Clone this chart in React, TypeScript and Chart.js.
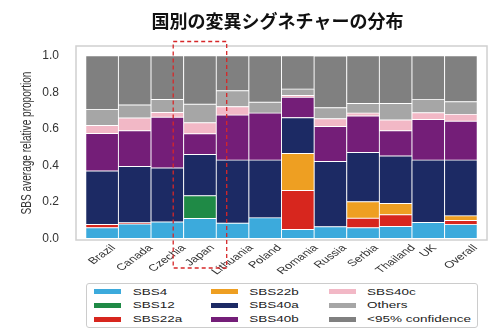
import { useEffect, useRef } from 'react';
import { Chart, registerables } from 'chart.js';

Chart.register(...registerables);

const TITLE = '国別の変異シグネチャーの分布';
const Y_TITLE = 'SBS average relative proportion';
const HIGHLIGHT = 'Japan';

const countries = ['Brazil', 'Canada', 'Czechia', 'Japan', 'Lithuania', 'Poland', 'Romania', 'Russia', 'Serbia', 'Thailand', 'UK', 'Overall'];
const yTicks = [0, 0.2, 0.4, 0.6, 0.8, 1.0];

const seriesNames = ['SBS4', 'SBS12', 'SBS22a', 'SBS22b', 'SBS40a', 'SBS40b', 'SBS40c', 'Others', '<95% confidence'];
const seriesColors = ['#3CAADC', '#1F8A46', '#D7261E', '#EE9F22', '#1C2A64', '#741E78', '#F2B8C6', '#A6A6A6', '#808080'];

const sbs4 = [0.059, 0.080, 0.090, 0.110, 0.084, 0.113, 0.049, 0.064, 0.059, 0.066, 0.088, 0.076];
const sbs12 = [0, 0, 0, 0.124, 0, 0, 0, 0, 0, 0, 0, 0];
const sbs22a = [0.018, 0.006, 0, 0, 0, 0, 0.214, 0, 0.052, 0.064, 0, 0.023];
const sbs22b = [0, 0, 0, 0, 0, 0, 0.202, 0, 0.090, 0.062, 0, 0.025];
const sbs40a = [0.292, 0.308, 0.296, 0.226, 0.345, 0.316, 0.196, 0.357, 0.270, 0.259, 0.341, 0.305];
const sbs40b = [0.205, 0.195, 0.277, 0.113, 0.246, 0.257, 0.111, 0.192, 0.199, 0.138, 0.222, 0.212];
const sbs40c = [0.044, 0.070, 0.026, 0.060, 0.046, 0, 0.010, 0.042, 0.016, 0.059, 0.037, 0.038];
const others = [0.087, 0.071, 0.071, 0.101, 0.087, 0.059, 0.035, 0.060, 0.053, 0.091, 0.073, 0.069];
const lowConf = [0.294, 0.270, 0.240, 0.266, 0.192, 0.255, 0.182, 0.283, 0.261, 0.261, 0.239, 0.252];

const seriesValues = [sbs4, sbs12, sbs22a, sbs22b, sbs40a, sbs40b, sbs40c, others, lowConf];

const FONT = '"Liberation Sans", Arial, Helvetica, sans-serif';
const SQUISH = 0.72;

const decorPlugin = {
  id: 'decor',
  beforeDatasetsDraw(chart: any) {
    const { ctx, chartArea: a } = chart;
    ctx.save();
    ctx.strokeStyle = '#d0d0d0';
    ctx.lineWidth = 1.5;
    ctx.strokeRect(a.left, a.top, a.right - a.left, a.bottom - a.top);
    ctx.restore();
  },
  afterDraw(chart: any) {
    const { ctx, chartArea: a } = chart;
    const xs = chart.scales.x;
    ctx.save();
    // title
    ctx.font = 'bold 18px "Noto Sans CJK JP", sans-serif';
    ctx.fillStyle = '#111';
    ctx.textAlign = 'center';
    ctx.textBaseline = 'middle';
    ctx.fillText(TITLE, (a.left + a.right) / 2 - 4, 21);

    // y axis title
    ctx.font = '14px ' + FONT;
    ctx.fillStyle = '#333';
    ctx.save();
    ctx.translate(27, (a.top + a.bottom) / 2);
    ctx.scale(1, SQUISH);
    ctx.rotate(-Math.PI / 2);
    ctx.fillText(Y_TITLE, 0, 0);
    ctx.restore();

    // rotated category labels, centred on their ticks
    ctx.font = '13px ' + FONT;
    const ang = Math.PI / 4;
    countries.forEach((c, i) => {
      const w = ctx.measureText(c).width;
      const bh = (w + 9.5) * Math.sin(ang) * SQUISH;
      const x = xs.getPixelForValue(i);
      const y = a.bottom + 4 + bh / 2;
      ctx.save();
      ctx.translate(x, y);
      ctx.scale(1, SQUISH);
      ctx.rotate(-ang);
      ctx.fillText(c, 0, 0);
      ctx.restore();
    });

    // dashed highlight box
    const j = countries.indexOf(HIGHLIGHT);
    const l = xs.getPixelForValue(j - 0.82);
    const r = xs.getPixelForValue(j + 0.82);
    const t = a.top - 4.5;
    const b = a.bottom + 28;
    ctx.strokeStyle = '#D62728';
    ctx.lineWidth = 1.3;
    ctx.setLineDash([4, 3]);
    ctx.strokeRect(l, t, r - l, b - t);
    ctx.restore();
  },
};

export default function App() {
  const ref = useRef<HTMLCanvasElement>(null);

  useEffect(() => {
    const chart = new Chart(ref.current as HTMLCanvasElement, {
      type: 'bar',
      data: {
        datasets: seriesNames.map((name, k) => ({
          label: name,
          data: countries.map((_, i) => ({ x: i, y: seriesValues[k][i] > 0 ? seriesValues[k][i] : null })),
          backgroundColor: seriesColors[k],
          borderColor: '#ffffff',
          borderWidth: 0.8,
          borderSkipped: false,
          barPercentage: 1,
          categoryPercentage: 1,
        })) as any,
      },
      options: {
        responsive: false,
        animation: false,
        devicePixelRatio: 1,
        layout: { padding: { left: 0, right: 17, top: 46, bottom: 60 } },
        plugins: {
          legend: { display: false },
          title: { display: false },
          tooltip: { enabled: false },
        },
        scales: {
          x: {
            type: 'linear',
            min: -0.8,
            max: 11.8,
            stacked: true,
            offset: false,
            grid: { display: false },
            border: { display: false },
            ticks: { display: false },
            afterFit: (s: any) => {
              s.height = 35;
            },
          },
          y: {
            stacked: true,
            min: -0.008,
            max: 1.053,
            grid: { display: false, drawTicks: false },
            border: { display: false },
            afterBuildTicks: (s: any) => {
              s.ticks = yTicks.map((v) => ({ value: v }));
            },
            afterFit: (s: any) => {
              s.width = 76;
            },
            ticks: {
              padding: 17,
              color: '#333',
              font: { family: FONT, size: 12 },
              callback: (v: any) => Number(v).toFixed(1),
            },
            title: { display: false },
          },
        },
      } as any,
      plugins: [decorPlugin],
    });
    return () => chart.destroy();
  }, []);

  const colX = [[6.7, 45.7], [124, 162.3], [241.7, 280]];
  const rowY = [7.7, 21.4, 35.2];

  return (
    <div style={{ position: 'fixed', left: 0, top: 0, width: 504, height: 335, background: '#fff' }}>
      <canvas ref={ref} width={504} height={335} style={{ position: 'absolute', left: 0, top: 0, width: 504, height: 335 }} />
      <div
        style={{
          position: 'absolute',
          left: 86,
          top: 283,
          width: 390,
          height: 43,
          border: '1px solid #cccccc',
          borderRadius: 3,
          background: '#fff',
          fontFamily: FONT,
          fontSize: 13.5,
          color: '#222',
        }}
      >
        {seriesNames.map((name, k) => {
          const col = Math.floor(k / 3);
          const row = k % 3;
          return (
            <div key={name}>
              <div
                style={{
                  position: 'absolute',
                  left: colX[col][0],
                  top: rowY[row] - 2.5,
                  width: 27,
                  height: 5,
                  background: seriesColors[k],
                }}
              />
              <span
                style={{
                  position: 'absolute',
                  left: colX[col][1],
                  top: rowY[row] - 8,
                  lineHeight: '16px',
                  whiteSpace: 'nowrap',
                  transform: `scaleY(${SQUISH})`,
                  transformOrigin: '50% 50%',
                }}
              >
                {name}
              </span>
            </div>
          );
        })}
      </div>
    </div>
  );
}
